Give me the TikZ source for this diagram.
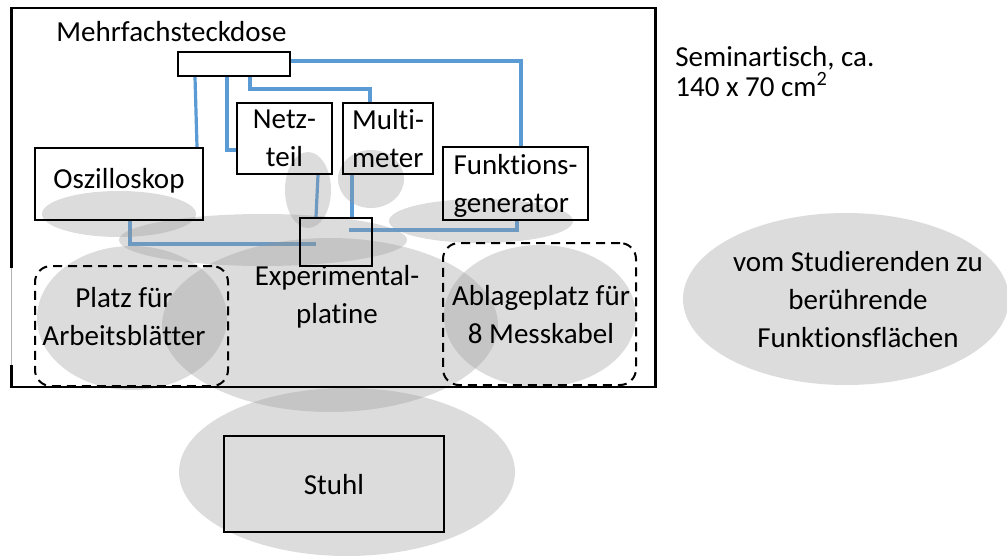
\documentclass[tikz,border=0pt]{standalone}
\usepackage{fontspec}
\setmainfont{Carlito}[Ligatures=NoCommon]
\usetikzlibrary{positioning,calc}
\definecolor{wireblue}{HTML}{5B9BD5}
\definecolor{zonegray}{RGB}{150,150,150}
\pgfdeclarelayer{wires}
\pgfdeclarelayer{zones}
\pgfsetlayers{wires,zones,main}

\begin{document}
\begin{tikzpicture}[
    x=0.5pt, y=-0.5pt,
    font=\fontsize{14.5pt}{19pt}\selectfont,
    box/.style={rectangle, draw, line width=1pt, inner sep=0pt, align=center},
    frame/.style={rectangle, draw, dash pattern=on 4.5pt off 3pt, rounded corners=8pt, line width=1pt},
    wire/.style={draw=wireblue, line width=1.6pt},
    zone/.style={fill=zonegray, fill opacity=0.333},
    lbl/.style={inner sep=0pt, align=center}
]
    \useasboundingbox (0,0) rectangle (1007,557);

    % Seminartisch
    \draw[line width=1.2pt] (11.5,268) -- (11.5,8) -- (655.5,8) -- (655.5,387) -- (11.5,387) -- (11.5,365);
    \draw[gray!60, line width=0.4pt] (11.5,268) -- (11.5,365);

    % Geraete
    \node[box, minimum width=56pt, minimum height=12pt] (dose) at (234,64) {};
    \node[box, minimum width=47.5pt, minimum height=35.5pt, text depth=0pt] (netz) at (284.5,138.5) {Netz-\\teil};
    \node[box, align=left, minimum width=45pt, minimum height=35.5pt, text depth=0pt] (multi) at (388,138.5) {Multi-\\meter};
    \node[box, minimum width=84pt, minimum height=36pt, text depth=6pt] (osc) at (119,184) {Oszilloskop};
    \node[box, align=left, minimum width=72.5pt, minimum height=36.5pt, text depth=0pt] (funk) at (515.5,183.5) {Funktions-\\generator};
    \node[box, minimum width=36pt, minimum height=24pt] (platine) at (336,242) {};
    \node[box, minimum width=110pt, minimum height=48pt, text depth=0pt] (stuhl) at (334,484) {Stuhl};

    % Ablageflaechen
    \node[frame, minimum width=96.5pt, minimum height=60pt] (blaetter) at (131.5,326) {};
    \node[frame, minimum width=96.5pt, minimum height=71pt] (kabel) at (539.5,314) {};

    % Beschriftungen (base = letzte Zeile)
    \node[lbl, anchor=base west] (doselabel) at (56,41.7) {Mehrfachsteckdose};
    \node[lbl, anchor=base] (platinelabel) at (337,323) {Experimental-\\platine};
    \node[lbl, anchor=base] (blaetterlabel) at (124,345) {Platz für\\Arbeitsblätter};
    \node[lbl, anchor=base] (kabellabel) at (541,343) {Ablageplatz für\\8 Messkabel};
    \node[lbl, anchor=base west, align=left, font=\fontsize{14.5pt}{15pt}\selectfont] (tisch) at (675,96) {Seminartisch, ca.\\140 x 70 cm\textsuperscript{2}};
    \node[lbl, anchor=base] (legende) at (858,347) {vom Studierenden zu\\berührende\\Funktionsflächen};

    % Kabel
    \begin{pgfonlayer}{wires}
    \draw[wire] ($(dose.south west)+(18,0)$) -- ($(osc.north east)+(-7,0)$);
    \draw[wire] ($(dose.south west)+(50,0)$) |- ($(netz.west)+(0,11.5)$);
    \draw[wire] ($(dose.south west)+(73,0)$) -- ++(0,12) -| ($(multi.north west)+(28,0)$);
    \draw[wire] ($(dose.east)+(0,-3)$) -| ($(funk.north west)+(79,0)$);
    \draw[wire] ($(osc.south west)+(96,0)$) |- ($(platine.west)+(17,2)$);
    \draw[wire] ($(netz.south east)+(-15,0)$) -- ($(platine.north west)+(17,0)$);
    \draw[wire] ($(multi.south west)+(10,0)$) -- ($(platine.north west)+(53,0)$);
    \draw[wire] ($(funk.south west)+(75,0)$) |- ($(platine.west)+(50,-12)$);
    \end{pgfonlayer}

    % Funktionsflaechen
    \begin{pgfonlayer}{zones}
    \fill[zone] (119,214) ellipse (77 and 23);
    \fill[zone] (263,240) ellipse (144 and 26);
    \fill[zone] (308,190) ellipse (23 and 38);
    \fill[zone] (371,179) ellipse (33 and 29);
    \fill[zone] (481,221) ellipse (92 and 22);
    \fill[zone] (132,318) ellipse (95 and 72);
    \fill[zone] (330,325) ellipse (168 and 87);
    \fill[zone] (540,316) ellipse (96 and 71);
    \fill[zone] (347,472) ellipse (168 and 84);
    \fill[zone] (846,299) ellipse (163 and 86);
    \end{pgfonlayer}
\end{tikzpicture}
\end{document}
